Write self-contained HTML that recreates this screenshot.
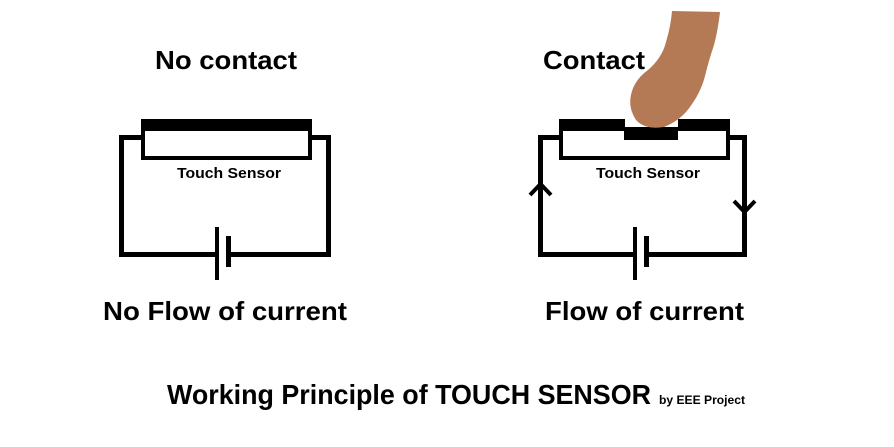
<!DOCTYPE html>
<html><head><style>body{margin:0;background:#fff}svg{display:block}</style></head><body>
<svg width="894" height="447" viewBox="0 0 894 447" xmlns="http://www.w3.org/2000/svg" font-family="'Liberation Sans', sans-serif" font-weight="bold">
<rect width="894" height="447" fill="#fff"/>
<!-- Left circuit -->
<g fill="none" stroke="#000" stroke-width="5">
<polyline points="143,137.5 121.5,137.5 121.5,254.5 215,254.5"/>
<polyline points="229,254.5 328.5,254.5 328.5,137.5 310,137.5"/>
<rect x="143" y="129" width="167" height="29" stroke-width="4"/>
</g>
<rect x="141" y="119" width="171" height="12" fill="#000"/>
<rect x="215" y="227" width="4" height="53" fill="#000"/>
<rect x="226" y="236" width="5" height="31" fill="#000"/>
<!-- Right circuit -->
<g fill="none" stroke="#000" stroke-width="5">
<polyline points="561,137.5 540.5,137.5 540.5,254.5 633,254.5"/>
<polyline points="647,254.5 744.5,254.5 744.5,137.5 728,137.5"/>
<rect x="561" y="129" width="167" height="29" stroke-width="4"/>
<polyline points="530,195 540.5,184 551,195" stroke-width="4"/>
<polyline points="734,201 744.5,212 755,201" stroke-width="4"/>
</g>
<rect x="559" y="119" width="66" height="12" fill="#000"/>
<rect x="678" y="119" width="52" height="12" fill="#000"/>
<rect x="624" y="127" width="54" height="13" fill="#000"/>
<rect x="633" y="227" width="4" height="53" fill="#000"/>
<rect x="644" y="236" width="5" height="31" fill="#000"/>
<!-- Finger -->
<path d="M672,11 L720,12 Q718,30 714,45 Q709,60 706,72 Q702,90 692,104 Q682,120 664,127 Q645,130 636,120 Q628,108 631,95 Q634,80 648,70 Q662,58 666,42 Q671,25 672,11 Z" fill="#b47a56"/>
<!-- Text -->
<text x="155" y="69" font-size="26" textLength="142" lengthAdjust="spacingAndGlyphs">No contact</text>
<text x="543" y="69" font-size="26" textLength="102" lengthAdjust="spacingAndGlyphs">Contact</text>
<text x="177" y="178" font-size="15" textLength="104" lengthAdjust="spacingAndGlyphs">Touch Sensor</text>
<text x="596" y="178" font-size="15" textLength="104" lengthAdjust="spacingAndGlyphs">Touch Sensor</text>
<text x="103" y="320" font-size="26" textLength="244" lengthAdjust="spacingAndGlyphs">No Flow of current</text>
<text x="545" y="320" font-size="26" textLength="199" lengthAdjust="spacingAndGlyphs">Flow of current</text>
<text x="167" y="404" font-size="28" textLength="484" lengthAdjust="spacingAndGlyphs">Working Principle of TOUCH SENSOR</text>
<text x="659" y="404" font-size="12" textLength="86" lengthAdjust="spacingAndGlyphs">by EEE Project</text>
</svg>
</body></html>
